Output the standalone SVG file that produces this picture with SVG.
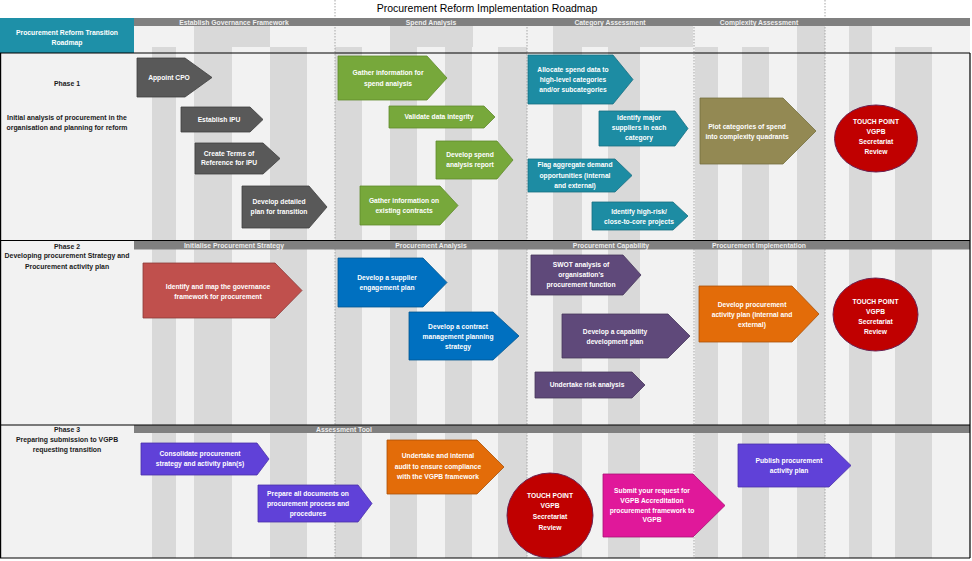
<svg xmlns="http://www.w3.org/2000/svg" width="972" height="561" viewBox="0 0 972 561">
<style>
.bg{fill:#f2f2f2}
.dk{fill:#d9d9d9}
.bar{fill:#808080}
.dot{stroke:#a6a6a6;stroke-width:1;stroke-dasharray:1.5 1.5;fill:none}
.ln{stroke:#000;stroke-width:1.2;fill:none}
.t{font-family:"Liberation Sans",Arial,sans-serif;font-size:6.7px;font-weight:bold;fill:#fff;text-anchor:middle}
.h{font-family:"Liberation Sans",Arial,sans-serif;font-size:6.8px;font-weight:bold;fill:#eeeeee;text-anchor:middle}
.l{font-family:"Liberation Sans",Arial,sans-serif;font-size:6.9px;font-weight:bold;fill:#1a1a1a;text-anchor:middle}
.ttl{font-family:"Liberation Sans",Arial,sans-serif;font-size:10.5px;fill:#000;text-anchor:middle}
.gy{fill:#595959;stroke:#3f3f3f;stroke-width:0.8}
.gr{fill:#77a83b;stroke:#5f8a2c;stroke-width:0.8}
.tl{fill:#1d8ca3;stroke:#176f82;stroke-width:0.8}
.ol{fill:#938953;stroke:#75703f;stroke-width:0.8}
.rd{fill:#c00000;stroke:#6b2150;stroke-width:1}
.rb{fill:#c0504d;stroke:#8c3a38;stroke-width:0.8}
.bl{fill:#0070c0;stroke:#00558f;stroke-width:0.8}
.pu{fill:#5f497a;stroke:#47375c;stroke-width:0.8}
.or{fill:#e36c09;stroke:#a95107;stroke-width:0.8}
.pb{fill:#6041d8;stroke:#4a30a8;stroke-width:0.8}
.mg{fill:#e0189a;stroke:#a81274;stroke-width:0.8}
</style>
<rect x="0" y="0" width="972" height="561" fill="#ffffff"/>
<g id="background">
<rect class="bg" x="0" y="53" width="134" height="505"/>
<rect class="bg" x="134" y="26" width="836" height="532"/>
<rect class="dk" x="194" y="26" width="76" height="21"/>
<rect class="dk" x="390" y="26" width="83" height="21"/>
<rect class="dk" x="553" y="26" width="140" height="21"/>
<rect class="dk" x="797" y="26" width="28" height="21"/>
<rect class="dk" x="849" y="26" width="23" height="21"/>
<rect class="dk" x="152" y="47" width="24" height="511"/>
<rect class="dk" x="194" y="47" width="38" height="511"/>
<rect class="dk" x="270" y="47" width="37" height="511"/>
<rect class="dk" x="335" y="47" width="27" height="511"/>
<rect class="dk" x="390" y="47" width="27" height="511"/>
<rect class="dk" x="445" y="47" width="27" height="511"/>
<rect class="dk" x="498" y="47" width="29" height="511"/>
<rect class="dk" x="553" y="47" width="29" height="511"/>
<rect class="dk" x="608" y="47" width="32" height="511"/>
<rect class="dk" x="695" y="47" width="23" height="511"/>
<rect class="dk" x="742" y="47" width="27" height="511"/>
<rect class="dk" x="797" y="47" width="28" height="511"/>
<rect class="dk" x="849" y="47" width="23" height="511"/>
<rect class="dk" x="895" y="47" width="37" height="511"/>
<line class="dot" x1="335" y1="0" x2="335" y2="558"/>
<line class="dot" x1="527" y1="18" x2="527" y2="558"/>
<line class="dot" x1="694" y1="18" x2="694" y2="558"/>
<line class="dot" x1="825" y1="0" x2="825" y2="558"/>
<rect x="0" y="18" width="134" height="35" fill="#1e90a8"/>
<text class="h" x="67" y="34.5" style="fill:#fff">Procurement Reform Transition</text>
<text class="h" x="67" y="44.5" style="fill:#fff">Roadmap</text>
<rect class="bar" x="134" y="18" width="836" height="8"/>
<rect class="bar" x="134" y="241" width="836" height="8.5"/>
<rect class="bar" x="134" y="425" width="836" height="8"/>
<text class="h" x="234" y="24.5">Establish Governance Framework</text>
<text class="h" x="431" y="24.5">Spend Analysis</text>
<text class="h" x="610" y="24.5">Category Assessment</text>
<text class="h" x="759" y="24.5">Complexity Assessment</text>
<text class="h" x="234" y="247.8">Initialise Procurement Strategy</text>
<text class="h" x="431" y="247.8">Procurement Analysis</text>
<text class="h" x="611" y="247.8">Procurement Capability</text>
<text class="h" x="759" y="247.8">Procurement Implementation</text>
<text class="h" x="344" y="431.5">Assessment Tool</text>
<line class="ln" x1="0" y1="53" x2="970" y2="53"/>
<line class="ln" x1="0" y1="240.5" x2="970" y2="240.5"/>
<line class="ln" x1="0" y1="425" x2="970" y2="425"/>
<line class="ln" x1="0" y1="558" x2="970" y2="558"/>
<line class="ln" x1="0.6" y1="53" x2="0.6" y2="558"/>
<line class="ln" x1="970" y1="53" x2="970" y2="558"/>
<text class="ttl" x="487" y="11.5">Procurement Reform Implementation  Roadmap</text>
<text class="l" x="67" y="85.5">Phase 1</text>
<text class="l" x="67" y="120.3">Initial analysis of procurement in the</text>
<text class="l" x="67" y="130.3">organisation and planning for reform</text>
<text class="l" x="67" y="249">Phase 2</text>
<text class="l" x="67" y="257.8">Developing procurement Strategy and</text>
<text class="l" x="67" y="269">Procurement activity plan</text>
<text class="l" x="67" y="431.6">Phase 3</text>
<text class="l" x="67" y="441.6">Preparing submission to VGPB</text>
<text class="l" x="67" y="451.6">requesting transition</text>
</g>
<g id="connectors"></g>
<g id="n1"><path class="gy" d="M137 58H185L212 77.5L185 97H137Z"/><text class="t" x="169" y="79.5">Appoint CPO</text></g>
<g id="n2"><path class="gy" d="M181 107H250L263 119.5L250 132H181Z"/><text class="t" x="219" y="122">Establish IPU</text></g>
<g id="n3"><path class="gy" d="M195 143H263L280 158.5L263 174H195Z"/><text class="t" x="229" y="156.3">Create Terms of</text><text class="t" x="229" y="165.3">Reference for IPU</text></g>
<g id="n4"><path class="gy" d="M242 186H309L327 207L309 228H242Z"/><text class="t" x="279" y="204.3">Develop detailed</text><text class="t" x="279" y="214.3">plan for transition</text></g>
<g id="n5"><path class="gr" d="M338 56H427L447 78L427 100H338Z"/><text class="t" x="388" y="75.3">Gather information  for</text><text class="t" x="388" y="86">spend analysis</text></g>
<g id="n6"><path class="gr" d="M389 106H484L495 117L484 128H389Z"/><text class="t" x="439" y="119.3">Validate data integrity</text></g>
<g id="n7"><path class="gr" d="M436 141H497L513 160L497 179H436Z"/><text class="t" x="470" y="157.3">Develop spend</text><text class="t" x="470" y="167.3">analysis report</text></g>
<g id="n8"><path class="gr" d="M360 186H440L458 205.5L440 225H360Z"/><text class="t" x="404" y="203.3">Gather information on</text><text class="t" x="404" y="213.3">existing contracts</text></g>
<g id="n9"><path class="tl" d="M528 55H613L633 79.5L613 104H528Z"/><text class="t" x="573" y="72.3">Allocate spend data to</text><text class="t" x="573" y="82.3">high-level categories</text><text class="t" x="573" y="91.5">and/or subcategories</text></g>
<g id="n10"><path class="tl" d="M599 111H675L688 128.5L675 146H599Z"/><text class="t" x="639" y="120.3">Identify major</text><text class="t" x="639" y="130.3">suppliers in each</text><text class="t" x="639" y="140.3">category</text></g>
<g id="n11"><path class="tl" d="M528 159H615L632 175.5L615 192H528Z"/><text class="t" x="575" y="167.3">Flag aggregate demand</text><text class="t" x="575" y="178">opportunities (internal</text><text class="t" x="575" y="188">and external)</text></g>
<g id="n12"><path class="tl" d="M592 202H673L688 216L673 230H592Z"/><text class="t" x="639" y="214.3">Identify high-risk/</text><text class="t" x="639" y="224.3">close-to-core projects</text></g>
<g id="n13"><path class="ol" d="M700 98H783L816 131L783 164H700Z"/><text class="t" x="747" y="129.3">Plot categories of spend</text><text class="t" x="747" y="139.3">into complexity quadrants</text></g>
<g id="n14"><ellipse class="rd" cx="876" cy="138.5" rx="41.5" ry="33.5"/><text class="t" x="876" y="124.3">TOUCH POINT</text><text class="t" x="876" y="134.3">VGPB</text><text class="t" x="876" y="144.3">Secretariat</text><text class="t" x="876" y="154.3">Review</text></g>
<g id="n15"><path class="rb" d="M143 263H275L302 290.5L275 318H143Z"/><text class="t" x="218" y="289.3">Identify and map the governance</text><text class="t" x="218" y="299.3">framework for procurement</text></g>
<g id="n16"><path class="bl" d="M338 258H423L447 282.5L423 307H338Z"/><text class="t" x="387" y="280.3">Develop a supplier</text><text class="t" x="387" y="290.3">engagement plan</text></g>
<g id="n17"><path class="bl" d="M409 312H493L519 336L493 360H409Z"/><text class="t" x="458" y="329.3">Develop a contract</text><text class="t" x="458" y="339.3">management planning</text><text class="t" x="458" y="349.3">strategy</text></g>
<g id="n18"><path class="pu" d="M531 255H623L641 275L623 295H531Z"/><text class="t" x="581" y="267.3">SWOT analysis of</text><text class="t" x="581" y="277.3">organisation's</text><text class="t" x="581" y="287.3">procurement function</text></g>
<g id="n19"><path class="pu" d="M562 314H668L690 336L668 358H562Z"/><text class="t" x="615" y="334.3">Develop a capability</text><text class="t" x="615" y="344.3">development plan</text></g>
<g id="n20"><path class="pu" d="M535 372H632L645 385L632 398H535Z"/><text class="t" x="587" y="387.3">Undertake risk analysis</text></g>
<g id="n21"><path class="or" d="M699 286H792L819 314L792 342H699Z"/><text class="t" x="752" y="307.3">Develop procurement</text><text class="t" x="752" y="317.3">activity plan (internal and</text><text class="t" x="752" y="327.3">external)</text></g>
<g id="n22"><ellipse class="rd" cx="875.5" cy="314.5" rx="42.5" ry="36.5"/><text class="t" x="875.5" y="304.3">TOUCH POINT</text><text class="t" x="875.5" y="314.3">VGPB</text><text class="t" x="875.5" y="324.3">Secretariat</text><text class="t" x="875.5" y="334.3">Review</text></g>
<g id="n23"><path class="pb" d="M141 443H257L269 459L257 475H141Z"/><text class="t" x="200" y="456.3">Consolidate procurement</text><text class="t" x="200" y="466.3">strategy and activity plan(s)</text></g>
<g id="n24"><path class="pb" d="M258 485H358L372 503.5L358 522H258Z"/><text class="t" x="308" y="496.3">Prepare all documents on</text><text class="t" x="308" y="506.3">procurement process and</text><text class="t" x="308" y="516.3">procedures</text></g>
<g id="n25"><path class="or" d="M387 440H477L504 467L477 494H387Z"/><text class="t" x="438" y="458.3">Undertake and internal</text><text class="t" x="438" y="469.3">audit to ensure compliance</text><text class="t" x="438" y="479.3">with the VGPB framework</text></g>
<g id="n26"><ellipse class="rd" cx="550" cy="515.5" rx="43" ry="42.5"/><text class="t" x="550" y="498.3">TOUCH POINT</text><text class="t" x="550" y="508.3">VGPB</text><text class="t" x="550" y="519.3">Secretariat</text><text class="t" x="550" y="530.3">Review</text></g>
<g id="n27"><path class="mg" d="M603 474H693L725 505.5L693 537H603Z"/><text class="t" x="652" y="493.3">Submit your request for</text><text class="t" x="652" y="503.3">VGPB Accreditation</text><text class="t" x="652" y="513.3">procurement framework to</text><text class="t" x="652" y="522.3">VGPB</text></g>
<g id="n28"><path class="pb" d="M738 444H829L851 465.5L829 487H738Z"/><text class="t" x="789" y="463.3">Publish procurement</text><text class="t" x="789" y="473.3">activity plan</text></g>
</svg>
